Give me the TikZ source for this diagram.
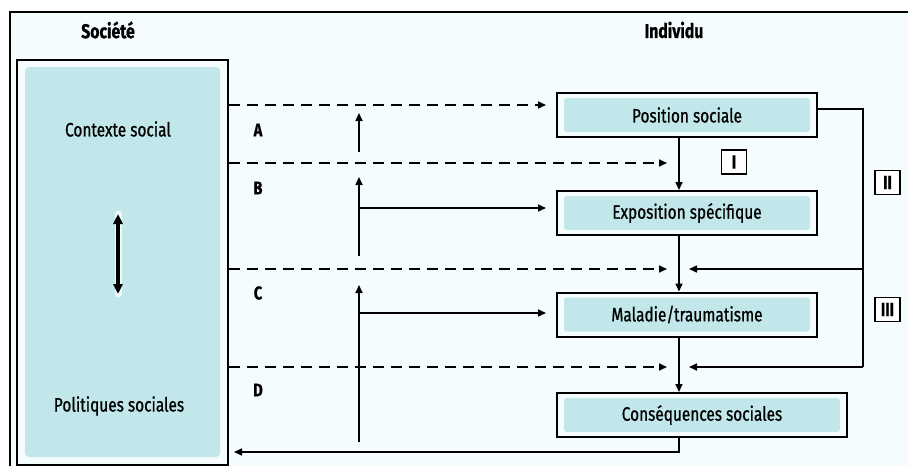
\documentclass[tikz,border=0pt]{standalone}
\usepackage{fontspec}
\setmainfont{Fira Sans}[FakeStretch=0.79,FakeBold=0.8]
\usetikzlibrary{arrows.meta,calc}
\definecolor{bgc}{HTML}{F4FCFD}
\definecolor{boxc}{HTML}{C2E7EB}
\definecolor{haloc}{HTML}{EEF9FA}
\tikzset{
  arr/.style={line width=1.6pt,-{Triangle[length=8pt,width=7pt]}},
  plain/.style={line width=1.6pt},
  dashln/.style={line width=1.6pt,dash pattern=on 11pt off 7pt},
  dasharr/.style={dashln,-{Triangle[length=8pt,width=7pt]}},
  txt/.style={font=\fontsize{19.5}{22}\selectfont},
  box/.style={draw,line width=2pt,minimum height=44pt,fill=bgc,txt,
    path picture={\fill[boxc,rounded corners=3pt]
      ($(path picture bounding box.south west)+(7,-5)$) rectangle
      ($(path picture bounding box.north east)+(-7,5)$);}},
  title/.style={font=\fontsize{20}{23}\selectfont\bfseries},
  letter/.style={font=\fontsize{18.5}{21}\selectfont\bfseries},
  roman/.style={draw,line width=1.5pt,fill=white,minimum width=25pt,minimum height=24pt,inner sep=0pt,font=\fontsize{19}{21}\selectfont\bfseries}
}
\begin{document}
\begin{tikzpicture}[x=1pt,y=-1pt]
\useasboundingbox (0,0) rectangle (908,466);
% frame
\fill[bgc] (10,12) rectangle (908,466);
\draw[line width=2pt] (10,470) -- (10,12) -- (910,12);
% titles
\node[title] (soc) at (108,30) {Société};
\node[title] (ind) at (674,30) {Individu};
% left box
\node[draw,line width=2pt,fill=bgc,minimum width=211pt,minimum height=405pt] (lbox) at (122.5,262.5) {};
\fill[boxc,rounded corners=4pt] (25,67) rectangle (220,457);
\node[txt] (ctx) at (118,129) {Contexte social};
\node[txt] (pol) at (119,406) {Politiques sociales};
\coordinate (dtop) at (118,214);
\coordinate (dbot) at (118,294);
\draw[haloc,line width=7pt,line cap=round] (dtop) -- (dbot);
\draw[line width=3.2pt,{Triangle[length=10pt,width=9pt]}-{Triangle[length=10pt,width=9pt]}] (dtop) -- (dbot);
% right boxes
\node[box,minimum width=260pt] (pos) at (687,115) {Position sociale};
\node[box,minimum width=260pt] (exp) at (687,213) {Exposition spécifique};
\node[box,minimum width=260pt] (mal) at (687,314.5) {Maladie/traumatisme};
\node[box,minimum width=290pt] (cons) at (702,415) {Conséquences sociales};
% key coordinates
\coordinate (vx) at (679,0);
\coordinate (jl) at (667,0);
\coordinate (jr) at (689,0);
\coordinate (rx) at (863,0);
% main chain
\draw[arr] (pos.south -| vx) -- (exp.north -| vx);
\draw[arr] (exp.south -| vx) -- (mal.north -| vx);
\draw[arr] (mal.south -| vx) -- (cons.north -| vx);
\coordinate (fb) at (679,452);
\draw[arr,shorten >=5pt] (cons.south -| vx) -- (fb) -- (lbox.east |- fb);
% dashed lines
\coordinate (da) at (0,105);
\coordinate (db) at (0,163);
\coordinate (dc) at (0,269);
\coordinate (dd) at (0,367);
\draw[dasharr,shorten >=10pt] (lbox.east |- da) -- (pos.west |- da);
\draw[dasharr] (lbox.east |- db) -- (jl |- db);
\draw[dasharr] (lbox.east |- dc) -- (jl |- dc);
\draw[dasharr] (lbox.east |- dd) -- (jl |- dd);
% letters
\node[letter] (la) at (258,130) {A};
\node[letter] (lb) at (258,188) {B};
\node[letter] (lc) at (258,293) {C};
\node[letter] (ld) at (258,390) {D};
% up arrows
\coordinate (ua1) at (359,152);
\coordinate (ua2) at (359,113);
\coordinate (ub1) at (359,256);
\coordinate (ub2) at (359,177);
\coordinate (uc1) at (359,442);
\coordinate (uc2) at (359,285);
\draw[arr] (ua1) -- (ua2);
\draw[arr] (ub1) -- (ub2);
\draw[arr] (uc1) -- (uc2);
\draw[arr,shorten >=10pt] (359,208) -- (exp.west |- 0,208);
\draw[arr,shorten >=10pt] (359,313) -- (mal.west |- 0,313);
% right loop
\coordinate (r1) at (0,109);
\draw[plain] (pos.east |- r1) -- (rx |- r1) -- (rx |- dd);
\draw[arr] (rx |- dd) -- (jr |- dd);
\draw[arr] (rx |- dc) -- (jr |- dc);
% roman labels
\node[roman] (r1l) at (734,162) {I};
\node[roman] (r2l) at (887.5,182.5) {II};
\node[roman] (r3l) at (887.5,309.5) {III};
\end{tikzpicture}
\end{document}
